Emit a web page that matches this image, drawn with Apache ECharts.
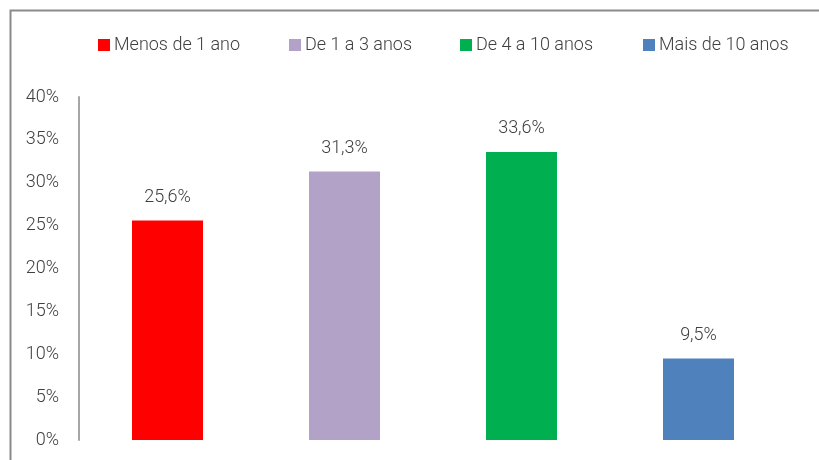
<!DOCTYPE html>
<html>
<head>
<meta charset="utf-8">
<script src="https://cdn.jsdelivr.net/npm/echarts@6/dist/echarts.min.js"></script>
<style>html,body{margin:0;padding:0;background:#fff}#c{width:819px;height:460px}</style>
</head>
<body>
<div id="c"></div>
<script>
const categories = ['Menos de 1 ano', 'De 1 a 3 anos', 'De 4 a 10 anos', 'Mais de 10 anos'];
const values = [25.6, 31.3, 33.6, 9.5];
const colors = ['#ff0000', '#b3a2c7', '#00b050', '#4f81bd'];
const yTicks = [0, 5, 10, 15, 20, 25, 30, 35, 40];
const legendLeft = [93, 284, 455, 638];

const FONT = 'Roboto';
const chart = echarts.init(document.getElementById('c'));
const series = categories.map((name, i) => ({
  name: name,
  type: 'bar',
  stack: 'all',
  barWidth: 71,
  itemStyle: { color: colors[i] },
  data: categories.map((c, j) => j === i ? values[i] : '-'),
  label: {
    show: true,
    position: 'top',
    distance: 14,
    color: '#404040',
    fontFamily: FONT,
    fontWeight: 300,
    fontSize: 18,
    formatter: p => p.value.toFixed(1).replace('.', ',') + '%'
  }
}));
chart.setOption({
  animation: false,
  textStyle: { fontFamily: FONT },
  graphic: [{
    type: 'rect', left: 8, top: 8,
    shape: { width: 830, height: 470 },
    style: { fill: 'none', stroke: '#8a8a8a', lineWidth: 2 }
  }],
  legend: categories.map((name, i) => ({
    data: [name],
    left: legendLeft[i],
    top: 31,
    itemWidth: 12,
    itemHeight: 12,
    itemGap: 5,
    icon: 'rect',
    textStyle: { color: '#404040', fontFamily: FONT, fontWeight: 300, fontSize: 18, padding: [0, 0, 0, -1] }
  })),
  grid: { left: 79, right: 32, top: 97, bottom: 20, containLabel: false },
  xAxis: {
    type: 'category', data: categories,
    axisLine: { show: false }, axisTick: { show: false }, axisLabel: { show: false }
  },
  yAxis: {
    type: 'value', min: yTicks[0], max: yTicks[yTicks.length - 1], interval: yTicks[1] - yTicks[0],
    axisLine: { show: true, lineStyle: { color: '#a6a6a6', width: 2 } },
    axisTick: { show: false },
    splitLine: { show: false },
    axisLabel: { margin: 20, color: '#404040', fontFamily: FONT, fontWeight: 300, fontSize: 18, formatter: '{value}%' }
  },
  series: series
});
</script>
</body>
</html>
